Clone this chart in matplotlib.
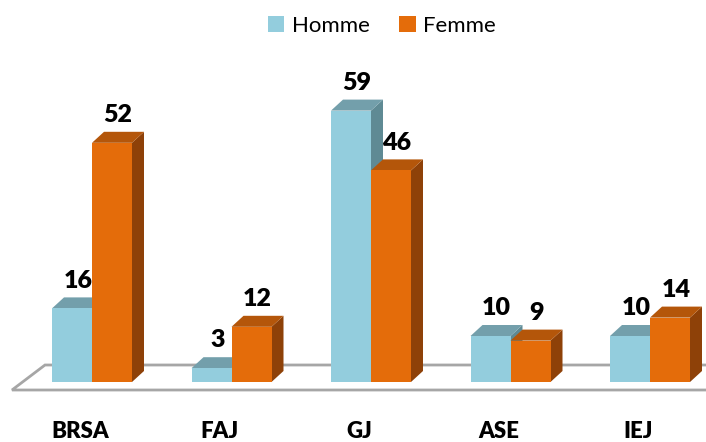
import matplotlib
matplotlib.use("Agg")
import matplotlib.pyplot as plt
from matplotlib.patches import Polygon, Patch

categories = ["BRSA", "FAJ", "GJ", "ASE", "IEJ"]
homme = [16, 3, 59, 10, 10]
femme = [52, 12, 46, 9, 14]
series_names = ["Homme", "Femme"]

plt.rcParams['font.family'] = ['Lato', 'DejaVu Sans']

W, H = 706, 442
fig = plt.figure(figsize=(W / 100, H / 100), dpi=100)
ax = fig.add_axes([0, 0, 1, 1])

px_cat = 139.5      # pixels per category
px_val = 4.6        # pixels per unit value
x0_px = 92          # pixel of first category centre
zero_from_bottom = 60
ax.set_xlim(-x0_px / px_cat, (W - x0_px) / px_cat)
ax.set_ylim(-zero_from_bottom / px_val, (H - zero_from_bottom) / px_val)
ax.axis('off')

bw = 40 / px_cat
dx = 12 / px_cat
dy = 11 / px_val

# floor
xr = ax.get_xlim()[1] + 0.2
floor = Polygon([(-80 / px_cat, -8 / px_val), (-47 / px_cat, 17 / px_val),
                 (xr, 17 / px_val), (xr, -8 / px_val)], closed=True,
                facecolor='white', edgecolor='#a6a6a6', lw=2, zorder=1)
ax.add_patch(floor)

colors = {
    "Homme": ("#93CDDD", "#739fab", "#5f8a94"),
    "Femme": ("#E46C0A", "#b4560a", "#8e4108"),
}

z = 2
for i, cat in enumerate(categories):
    for name, vals, left in (("Homme", homme, i - bw), ("Femme", femme, i)):
        h = vals[i]
        front, top, side = colors[name]
        ax.add_patch(Polygon([(left + bw, 0), (left + bw + dx, dy),
                              (left + bw + dx, h + dy), (left + bw, h)],
                             closed=True, facecolor=side, lw=0, zorder=z))
        ax.add_patch(Polygon([(left, h), (left + bw, h), (left + bw + dx, h + dy),
                              (left + dx, h + dy)],
                             closed=True, facecolor=top, lw=0, zorder=z))
        ax.bar(left, h, width=bw, align='edge', color=front, lw=0, zorder=z)
        z += 1
        ax.annotate(str(h), (left + bw / 2 + dx / 2, h + dy), xytext=(0, 7),
                    textcoords='offset points', ha='center', va='baseline',
                    fontsize=18, fontweight='heavy', color='black', zorder=50)
    ax.text(i - 12 / px_cat, -38.5 / px_val, cat, ha='center', va='top',
            fontsize=16, fontweight='heavy', color='black')

handles = [Patch(facecolor=colors[n][0], edgecolor='none') for n in series_names]
fig.legend(handles, series_names, loc='upper center', bbox_to_anchor=(382 / W, 1.0),
           ncol=2, frameon=False, fontsize=16, handlelength=0.75, handleheight=0.75,
           handletextpad=0.35, columnspacing=1.3, borderaxespad=0.3)

fig.savefig("out.png", dpi=100)
